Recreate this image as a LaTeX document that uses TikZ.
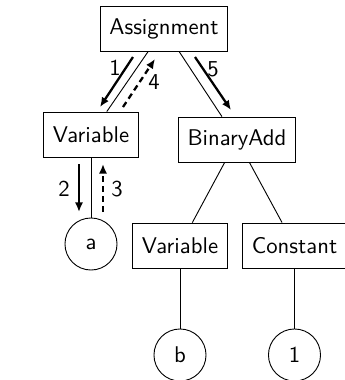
\documentclass[tikz,border=0pt]{standalone}
\usepackage{tikz}
\usetikzlibrary{positioning}
\usetikzlibrary{arrows.meta}

\begin{document}
\begin{tikzpicture}[x=0.44pt, y=-0.44pt,
                font=\sffamily,
                box/.style={draw, rectangle, minimum height=19.8pt, inner xsep=4pt},
                leaf/.style={draw, circle, minimum size=22.9pt, inner sep=0pt},
                walk/.style={-{Latex[length=4.2pt,width=3.6pt]}, line width=1pt},
                back/.style={walk, dash pattern=on 2.6pt off 1.8pt}]
                \useasboundingbox (0,0) rectangle (345,380);
                \clip (0,0) rectangle (345,380);
                % tree nodes
                \node[box](nAssign) at (164, 28.5) {Assignment};
                \node[box](nVarA) at (91, 134.5) {Variable};
                \node[box](nAdd) at (237, 139.5) {BinaryAdd};
                \node[box](nVarB) at (180, 245.5) {Variable};
                \node[box](nConst) at (294.5, 245.5) {Constant};
                \node[leaf](nA) at (91, 244) {a};
                \node[leaf](nB) at (180, 355) {b};
                \node[leaf](nOne) at (294.5, 355) {1};
                % tree edges
                \draw (nAssign) -- (nVarA);
                \draw (nAssign) -- (nAdd);
                \draw (nVarA) -- (nA);
                \draw (nAdd) -- (nVarB);
                \draw (nAdd) -- (nConst);
                \draw (nVarB) -- (nB);
                \draw (nConst) -- (nOne);
                % visiting order
                \coordinate (s1) at (133, 57);  \coordinate (e1) at (100, 107);
                \coordinate (s2) at (79, 164);  \coordinate (e2) at (79, 212);
                \coordinate (s3) at (103, 212); \coordinate (e3) at (103, 164);
                \coordinate (s4) at (123, 107); \coordinate (e4) at (155, 59);
                \coordinate (s5) at (195, 57);  \coordinate (e5) at (231, 110);
                \draw[walk] (s1) -- (e1);
                \draw[walk] (s2) -- (e2);
                \draw[back] (s3) -- (e3);
                \draw[back] (s4) -- (e4);
                \draw[walk] (s5) -- (e5);
                \node(l1) at (115, 68) {1};
                \node(l2) at (64, 189) {2};
                \node(l3) at (117, 189) {3};
                \node(l4) at (154, 82) {4};
                \node(l5) at (213, 69) {5};
\end{tikzpicture}
\end{document}
